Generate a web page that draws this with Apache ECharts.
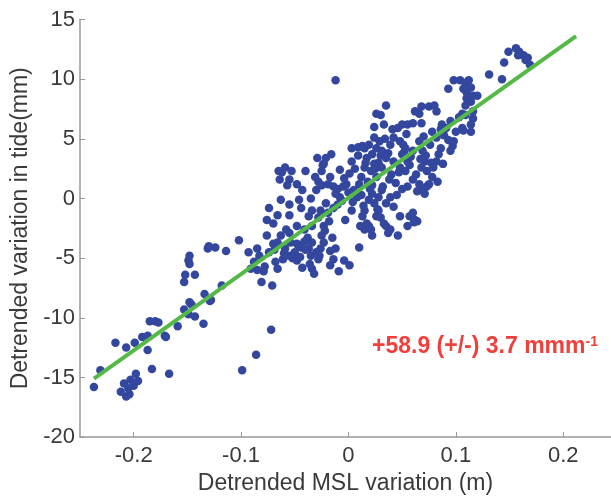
<!DOCTYPE html>
<html>
<head>
<meta charset="utf-8">
<script src="https://cdn.jsdelivr.net/npm/echarts@6/dist/echarts.min.js"></script>
<style>html,body{margin:0;padding:0;background:#fff;}#c{width:611px;height:500px;}</style>
</head>
<body>
<div id="c"></div>
<script>
// MSL variation (m)
const mslX = [
-0.237,-0.231,-0.217,-0.207,-0.199,-0.212,-0.207,-0.204,-0.209,-0.203,-0.198,-0.196,-0.200,-0.205,-0.192,-0.187,-0.187,-0.183,-0.185,-0.180,
-0.177,-0.171,-0.170,-0.167,-0.159,-0.152,-0.153,-0.149,-0.148,-0.148,-0.143,-0.148,-0.146,-0.149,-0.143,-0.153,-0.134,-0.135,-0.129,-0.128,
-0.131,-0.130,-0.124,-0.114,-0.118,-0.102,-0.099,-0.086,-0.072,-0.071,-0.081,-0.079,-0.093,-0.091,-0.088,-0.085,-0.083,-0.076,-0.074,-0.070,
-0.068,-0.066,-0.076,-0.070,-0.074,-0.066,-0.063,-0.055,-0.055,-0.065,-0.062,-0.059,-0.064,-0.055,-0.053,-0.057,-0.048,-0.043,-0.040,-0.046,
-0.044,-0.035,-0.034,-0.030,-0.029,-0.025,-0.031,-0.023,-0.021,-0.016,-0.017,-0.014,-0.019,-0.012,-0.010,-0.008,-0.005,0.003,0.001,0.003,
0.009,-0.002,-0.012,-0.025,-0.021,-0.026,-0.019,-0.014,-0.023,-0.028,-0.034,-0.037,-0.041,-0.048,-0.055,-0.063,-0.059,-0.054,-0.050,-0.055,
-0.048,-0.044,-0.041,-0.037,-0.035,-0.034,-0.043,-0.034,-0.032,-0.028,-0.026,-0.025,-0.023,-0.017,-0.012,-0.014,-0.017,-0.009,-0.004,0.001,
-0.048,-0.061,0.003,0.004,0.008,0.010,0.012,0.015,0.017,0.015,0.019,0.022,0.024,0.026,0.030,0.035,0.033,0.024,0.026,0.030,
0.024,0.021,0.026,0.031,0.035,0.039,0.042,0.046,0.050,0.055,0.060,0.068,0.062,0.068,0.075,0.080,0.082,0.066,0.048,0.053,
0.050,0.055,0.060,0.066,0.069,0.071,0.068,0.073,0.078,0.075,0.071,0.068,0.066,0.060,0.055,0.053,0.048,0.042,0.078,0.082,
0.086,0.087,0.084,0.089,0.093,0.097,0.098,0.095,0.088,0.082,0.039,0.035,0.031,0.028,0.022,0.019,0.015,0.013,0.017,0.021,
0.022,0.019,0.015,0.010,0.026,0.028,0.035,0.037,0.039,0.046,0.042,0.048,0.055,0.057,0.062,0.060,0.064,0.093,0.098,0.104,
0.109,0.112,0.107,0.110,0.114,0.116,0.110,0.109,0.114,0.116,0.109,0.106,0.116,0.114,0.114,0.107,0.120,0.131,0.143,0.145,
0.149,0.156,0.158,0.163,0.165,0.167,0.169,0.159,
-0.060,-0.052,-0.045,-0.040,-0.038,-0.030,-0.022,-0.018,-0.010,-0.006,0.000,0.005,0.012,0.018,0.022,0.025,0.028,0.031,0.034,0.037,
0.040,0.044,0.047,0.051,0.054,0.058,0.063,0.067,0.070,0.073,0.076,0.079,0.083,0.086,0.091,0.095,0.100,0.103,0.106,-0.066,
-0.069,-0.078,-0.085,-0.024,-0.028,-0.008,-0.004,0.006,0.014,0.020,0.024,0.030,0.033,0.016,0.029,0.041,0.013,0.009,0.050,0.061,
0.038,0.045,0.052,0.057,0.064,0.072,0.077,0.032,0.027,0.011,-0.003,-0.015,-0.027,-0.036,-0.047,-0.058
];
// Tide variation (mm)
const tideY = [
-15.8,-14.4,-12.1,-12.5,-12.1,-16.2,-16.6,-16.4,-15.5,-15.2,-14.7,-15.3,-15.7,-15.9,-11.6,-11.5,-12.7,-14.3,-10.3,-10.3,
-10.4,-11.5,-11.6,-14.7,-10.7,-6.4,-7.0,-5.2,-5.5,-4.8,-6.4,-8.7,-8.9,-9.7,-9.9,-9.3,-8.0,-10.5,-8.6,-8.5,
-4.2,-4.0,-4.1,-4.4,-7.3,-3.5,-14.4,-13.1,-11.0,-7.3,-7.0,-6.1,-4.5,-5.9,-5.3,-4.2,-4.8,-3.1,-4.5,-3.8,
-5.3,-5.9,-1.8,-2.1,-0.8,-1.4,-0.1,-0.5,-1.4,2.3,2.2,2.6,1.6,1.6,2.3,1.1,1.2,0.7,2.3,-0.1,
-0.8,0.0,-1.0,0.7,3.4,2.3,1.8,2.9,3.4,3.7,1.8,1.0,1.2,0.4,0.8,0.1,1.0,3.1,2.1,4.2,
4.3,1.2,9.9,1.1,-0.4,-1.0,-1.2,-0.8,-2.3,-1.6,-2.3,-1.5,-2.6,-2.3,-2.9,-3.1,-4.2,-3.7,-4.5,-4.8,
-5.2,-4.1,-3.6,-4.2,-4.8,-3.7,-5.8,-5.9,-6.3,-5.1,-4.2,-3.1,-3.7,-4.4,-4.2,-5.1,-5.6,-6.1,-5.2,-5.6,
-3.8,-5.1,-1.0,-0.3,0.1,1.2,1.8,2.6,3.4,4.2,4.5,3.7,6.0,7.1,7.0,7.8,6.2,5.1,4.2,3.6,
2.9,2.3,1.8,2.6,3.4,4.5,5.1,5.9,6.2,6.2,6.3,6.3,7.3,7.7,7.7,7.8,7.3,7.1,4.8,4.2,
3.7,3.1,4.0,4.8,4.0,3.1,2.6,2.3,1.8,1.2,0.4,0.7,1.2,1.6,1.0,2.3,2.6,3.1,5.6,5.1,
4.2,6.2,3.7,5.3,4.9,4.4,4.8,4.0,2.9,3.1,0.1,-0.4,0.7,0.1,0.4,-0.1,-1.0,-1.5,-2.1,-2.6,
-3.1,-2.3,-2.6,-4.1,-1.5,-1.0,-2.3,-2.9,-2.6,-3.1,-0.7,-1.5,-2.3,-1.5,-1.8,-1.2,-1.9,9.2,9.9,9.9,
9.7,9.9,9.2,8.9,9.3,8.6,8.4,7.8,8.1,7.3,7.0,7.1,6.7,6.2,5.6,5.7,8.6,10.4,10.0,11.4,
12.3,12.6,12.0,12.0,11.6,11.8,11.2,12.3,
-4.6,-5.0,-4.9,-4.3,-3.3,-4.5,-2.7,-1.9,-0.5,-0.2,0.5,0.7,0.3,1.4,1.1,2.5,3.0,4.0,5.0,3.8,
2.0,1.3,2.2,4.5,5.4,3.5,2.0,3.3,5.2,1.0,4.5,2.6,1.4,5.8,5.9,6.5,5.6,6.8,5.9,-3.7,
-4.3,-5.7,-6.0,2.8,1.4,2.4,1.7,2.5,-0.6,0.8,-0.4,-1.6,-2.1,3.0,4.8,5.8,4.4,3.6,0.8,-2.0,
1.6,0.3,3.9,2.8,0.6,3.6,3.0,1.0,-0.9,-2.3,-1.8,-3.3,-4.8,-5.5,-3.9,-2.6
];
// Regression line end points
const fitX = [-0.237, 0.212];
const fitY = [-15.1, 13.6];
const xTicks = [-0.2, -0.1, 0, 0.1, 0.2];
const yMin = -20, yMax = 15, yStep = 5;
const xTitle = 'Detrended MSL variation (m)';
const yTitle = 'Detrended variation in tide(mm)';
const noteMain = '+58.9 (+/-) 3.7 mmm';
const noteSup = '-1';

const pts = mslX.map((x, i) => [x, tideY[i]]);
const fit = fitX.map((x, i) => [x, fitY[i]]);
const chart = echarts.init(document.getElementById('c'), null, {renderer: 'canvas'});
const font = 'Liberation Sans, Arial, sans-serif';
chart.setOption({
  animation: false,
  backgroundColor: '#fff',
  grid: {left: 80, right: 0, top: 19.5, bottom: 55},
  xAxis: {
    type: 'value', min: -0.25, max: 0.2445,
    name: xTitle, nameLocation: 'middle', nameGap: 29,
    nameTextStyle: {fontFamily: font, fontSize: 23, color: '#3a3a3a'},
    axisLine: {show: true, onZero: false, lineStyle: {color: '#999', width: 1.5}},
    axisTick: {show: true, inside: true, length: 5, customValues: xTicks, lineStyle: {color: '#999'}},
    axisLabel: {customValues: xTicks, margin: 8, fontFamily: font, fontSize: 22, color: '#3a3a3a',
      formatter: v => (Math.abs(v) < 1e-9 ? '0' : String(Math.round(v * 10) / 10))},
    splitLine: {show: false}
  },
  yAxis: {
    type: 'value', min: yMin, max: yMax, interval: yStep,
    name: yTitle, nameLocation: 'middle', nameGap: 44,
    nameTextStyle: {fontFamily: font, fontSize: 23, color: '#3a3a3a'},
    axisLine: {show: true, onZero: false, lineStyle: {color: '#999', width: 1.5}},
    axisTick: {show: true, inside: true, length: 5, lineStyle: {color: '#999'}},
    axisLabel: {margin: 5, fontFamily: font, fontSize: 22, color: '#3a3a3a'},
    splitLine: {show: false}
  },
  series: [
    {type: 'scatter', data: pts, symbolSize: 8.5, itemStyle: {color: '#34479e', opacity: 1}, z: 2},
    {type: 'line', data: fit, symbol: 'none', lineStyle: {color: '#55b947', width: 4}, z: 3}
  ],
  graphic: [{
    type: 'text', left: 372, top: 335, z: 10,
    style: {
      text: '{a|' + noteMain + '}{s|' + noteSup + '}',
      rich: {
        a: {fontFamily: font, fontSize: 23, fontWeight: 'bold', fill: '#f0403c', color: '#f0403c'},
        s: {fontFamily: font, fontSize: 14, fontWeight: 'bold', fill: '#f0403c', color: '#f0403c', verticalAlign: 'top', padding: [0, 0, 10, 0]}
      }
    }
  }]
});
</script>
</body>
</html>
